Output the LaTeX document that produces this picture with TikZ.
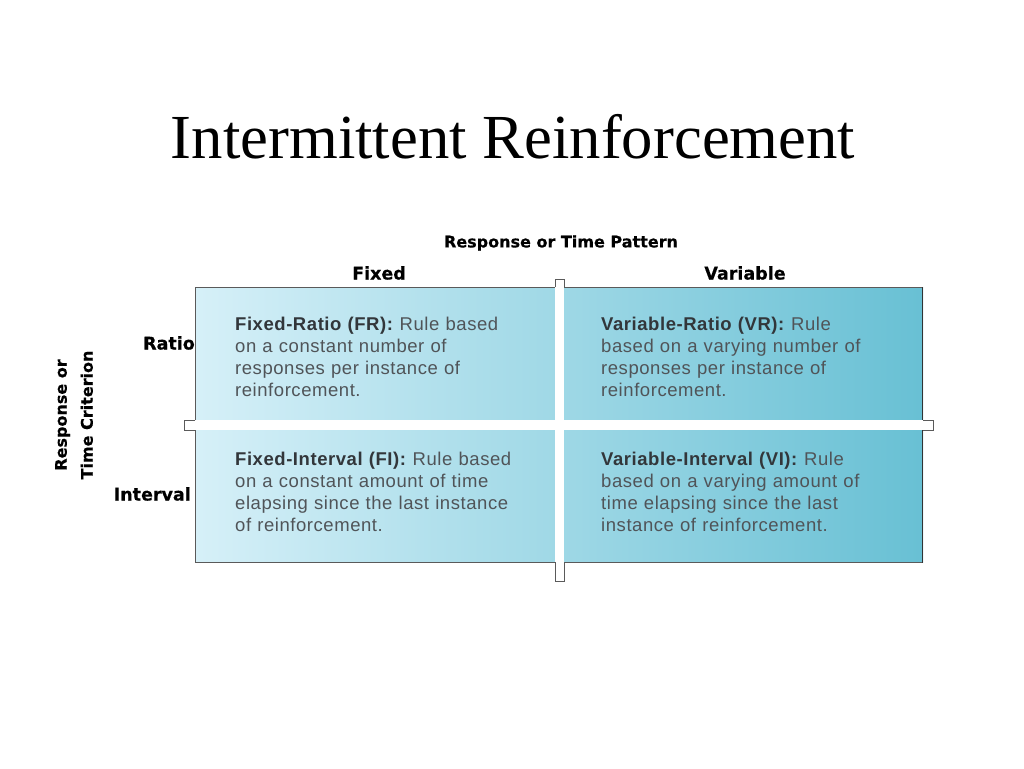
\documentclass[tikz,border=0pt]{standalone}
\usepackage{fontspec}
\setmainfont{Liberation Serif}
\setsansfont{Liberation Sans}[LetterSpace=3]
\newfontfamily\lblfont{DejaVu Sans}[FakeBold=0.4]
\definecolor{boxleft}{RGB}{214,240,248}
\definecolor{boxright}{RGB}{104,192,212}
\definecolor{txtgray}{RGB}{80,84,88}
\definecolor{txtdark}{RGB}{50,54,58}
\definecolor{edgegray}{RGB}{90,90,90}
\tikzset{
  headlbl/.style={font=\lblfont\bfseries\fontsize{17.5}{20}\selectfont, text=black, inner sep=0pt},
  quadtxt/.style={font=\sffamily\fontsize{18.5}{22}\selectfont, text=txtgray, align=left, inner sep=0pt, anchor=north west, text width=330pt},
  capline/.style={draw=edgegray, line width=0.9pt},
}
\newcommand{\qb}[1]{\textcolor{txtdark}{\textbf{#1}}}
\begin{document}
\begin{tikzpicture}[x=1pt,y=-1pt]
\useasboundingbox (0,0) rectangle (1024,768);
% title
\node[font=\fontsize{62.7}{68}\selectfont, inner sep=0pt] (title) at (513,137) {Intermittent Reinforcement};
% box
\shade[left color=boxleft, right color=boxright] (195,287) rectangle (923,562);
\draw[draw=edgegray, line width=0.8pt] (923,287) -- (195,287) -- (195,562) -- (923,562);
\draw[draw=black!80, line width=1.8pt] (922.5,287) -- (922.5,562.5);
\coordinate (boxnw) at (195,287);
% white cross
\fill[white] (555,278) rectangle (564,582);
\fill[white] (183,420) rectangle (934,430);
\draw[capline] (555,287) -- (555,279) -- (564,279) -- (564,287);
\draw[capline] (555,562) -- (555,581) -- (564,581) -- (564,562);
\draw[capline] (195,420) -- (184,420) -- (184,430) -- (195,430);
\draw[capline] (923,420) -- (933,420) -- (933,430) -- (923,430);
% header labels
\node[headlbl, font=\lblfont\bfseries\fontsize{16}{18}\selectfont] (pattern) at (561,243) {Response or Time Pattern};
\node[headlbl] (fixed) at (379,273) {Fixed};
\node[headlbl] (variable) at (745,273) {Variable};
\node[headlbl, anchor=east] (ratio) at (195,343) {Ratio};
\node[headlbl, anchor=east] (interval) at (191,494) {Interval};
\node[headlbl, rotate=90, align=center, font=\lblfont\bfseries\fontsize{16}{26}\selectfont] (criterion) at (74,415) {Response or\\Time Criterion};
% quadrant texts
\node[quadtxt] (fr) at (235,316.5) {\qb{Fixed-Ratio (FR):} Rule based\\on a constant number of\\responses per instance of\\reinforcement.};
\node[quadtxt] (vr) at (601,316.5) {\qb{Variable-Ratio (VR):} Rule\\based on a varying number of\\responses per instance of\\reinforcement.};
\node[quadtxt] (fi) at (235,451.5) {\qb{Fixed-Interval (FI):} Rule based\\on a constant amount of time\\elapsing since the last instance\\of reinforcement.};
\node[quadtxt] (vi) at (601,451.5) {\qb{Variable-Interval (VI):} Rule\\based on a varying amount of\\time elapsing since the last\\instance of reinforcement.};
\end{tikzpicture}
\end{document}
